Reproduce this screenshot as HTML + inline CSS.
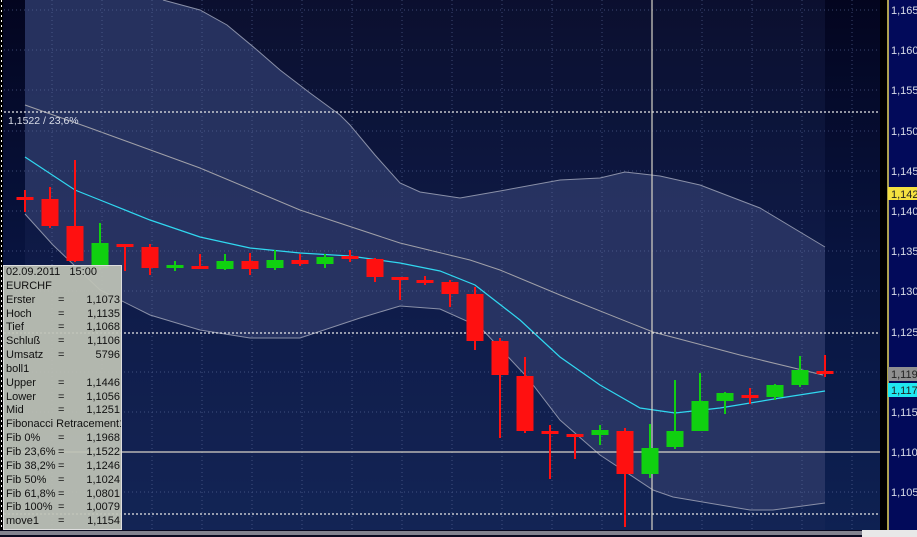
<!DOCTYPE html>
<html><head><meta charset="utf-8"><style>
html,body{margin:0;width:917px;height:537px;overflow:hidden;background:#000;position:relative}
svg{display:block}
.ax{font-family:"Liberation Sans",sans-serif;font-size:11px;fill:#d8dce8}
#box{position:absolute;left:3px;top:265px;width:119px;height:265px;overflow:hidden;background:rgba(190,195,182,0.93);border:1px solid #ddd;font-family:"Liberation Sans",sans-serif;font-size:11px;color:#111;line-height:13.85px;box-sizing:border-box;padding:0 1px 0 2px}
#box div{display:flex;white-space:nowrap;height:13.85px}
#box .l{width:52px}#box .e{width:20px}#box .v{flex:1;text-align:right}
</style></head><body>
<svg width="917" height="537" viewBox="0 0 917 537">
<defs><linearGradient id="bg" x1="0" y1="0" x2="0" y2="1"><stop offset="0" stop-color="#03051f"/><stop offset="0.5" stop-color="#081440"/><stop offset="1" stop-color="#0e2152"/></linearGradient></defs>
<rect x="0" y="0" width="887" height="530" fill="url(#bg)"/>
<rect x="25" y="0" width="800" height="530" fill="#22305e" opacity="0.25"/>
<polygon fill="#2b3766" opacity="0.85" points="163,0 200,10 227,25 257,50 280,70 310,93 340,115 350,125 375,155 400,183 420,192 460,198 500,191 560,180 600,178 625,172 660,176 700,185 760,208 825,247 825,503 773,510 750,510 673,497 653,490 600,455 560,420 527,377 480,327 440,309 400,306 360,318 300,338 250,338 200,330 150,315 100,290 53,245 25,214 25,0"/>
<polyline fill="none" stroke="#8a90a8" stroke-width="1" points="163,0 200,10 227,25 257,50 280,70 310,93 340,115 350,125 375,155 400,183 420,192 460,198 500,191 560,180 600,178 625,172 660,176 700,185 760,208 825,247"/>
<polyline fill="none" stroke="#8a90a8" stroke-width="1" points="25,214 53,245 100,290 150,315 200,330 250,338 300,338 360,318 400,306 440,309 480,327 527,377 560,420 600,455 653,490 673,497 750,510 773,510 825,503"/>
<polyline fill="none" stroke="#a0a0a8" stroke-width="1" points="25,105 90,128 200,168 300,210 400,243 470,260 500,270 560,295 653,332 740,355 823,375"/>
<g stroke="#6070a0" stroke-width="1" stroke-dasharray="1,3" opacity="0.6">
<line x1="52" y1="0" x2="52" y2="530"/><line x1="102" y1="0" x2="102" y2="530"/><line x1="152" y1="0" x2="152" y2="530"/><line x1="202" y1="0" x2="202" y2="530"/><line x1="252" y1="0" x2="252" y2="530"/><line x1="302" y1="0" x2="302" y2="530"/><line x1="352" y1="0" x2="352" y2="530"/><line x1="402" y1="0" x2="402" y2="530"/><line x1="452" y1="0" x2="452" y2="530"/><line x1="502" y1="0" x2="502" y2="530"/><line x1="552" y1="0" x2="552" y2="530"/><line x1="602" y1="0" x2="602" y2="530"/><line x1="702" y1="0" x2="702" y2="530"/><line x1="752" y1="0" x2="752" y2="530"/><line x1="802" y1="0" x2="802" y2="530"/><line x1="852" y1="0" x2="852" y2="530"/>
<line x1="0" y1="10" x2="880" y2="10"/><line x1="0" y1="50" x2="880" y2="50"/><line x1="0" y1="90" x2="880" y2="90"/><line x1="0" y1="131" x2="880" y2="131"/><line x1="0" y1="171" x2="880" y2="171"/><line x1="0" y1="211" x2="880" y2="211"/><line x1="0" y1="251" x2="880" y2="251"/><line x1="0" y1="291" x2="880" y2="291"/><line x1="0" y1="372" x2="880" y2="372"/><line x1="0" y1="412" x2="880" y2="412"/><line x1="0" y1="492" x2="880" y2="492"/>
</g>
<polyline fill="none" stroke="#30d8f0" stroke-width="1.2" points="25,157 75,190 100,200 150,220 200,237 250,248 300,253 350,256 400,263 440,271 475,285 520,320 560,357 600,385 640,408 675,413 720,408 780,398 825,391"/>
<g stroke="#e8e8e8" stroke-width="1.3" stroke-dasharray="2,2">
<line x1="0" y1="112" x2="880" y2="112"/><line x1="0" y1="333" x2="880" y2="333"/><line x1="0" y1="514" x2="880" y2="514"/>
</g>
<line x1="0" y1="452" x2="880" y2="452" stroke="#d8d4c8" stroke-width="1.2"/>
<line x1="652" y1="0" x2="652" y2="530" stroke="#d8d4c8" stroke-width="1.2"/>
<text x="8" y="124" class="ax" fill="#e0e4f0" style="font-size:10.5px">1,1522 / 23,6%</text>
<g id="c"></g>
<rect x="0" y="0" width="3" height="530" fill="#000"/>
<line x1="1.5" y1="0" x2="1.5" y2="530" stroke="#fff" stroke-dasharray="2,3"/>
<rect x="880" y="0" width="7" height="530" fill="#000"/>
<rect x="888" y="0" width="29" height="530" fill="#020a5a"/>
<line x1="888" y1="0" x2="888" y2="530" stroke="#e8d860" stroke-width="1.5"/>
<rect x="0" y="530" width="917" height="7" fill="#0a0a20"/>
<line x1="0" y1="532" x2="862" y2="532" stroke="#fff"/><line x1="0" y1="534" x2="862" y2="534" stroke="#fff"/>
<rect x="862" y="530" width="55" height="7" fill="#e8e8e8"/>
<g class="ax">
<text x="891" y="14">1,165</text><text x="891" y="54">1,160</text><text x="891" y="94">1,155</text><text x="891" y="135">1,150</text><text x="891" y="175">1,145</text><text x="891" y="215">1,140</text><text x="891" y="255">1,135</text><text x="891" y="295">1,130</text><text x="891" y="336">1,125</text><text x="891" y="416">1,115</text><text x="891" y="456">1,110</text><text x="891" y="496">1,105</text>
</g>
<rect x="888" y="187" width="29" height="13" fill="#f4e040"/><text x="891" y="198" class="ax" style="fill:#222">1,142</text>
<rect x="888" y="367" width="29" height="14" fill="#909090"/><text x="891" y="378" class="ax" style="fill:#222">1,119</text>
<rect x="888" y="383" width="29" height="14" fill="#20e8f0"/><text x="891" y="394" class="ax" style="fill:#222">1,117</text>
</svg>
<div id="box">
<div>02.09.2011&nbsp;&nbsp;&nbsp;15:00</div><div>EURCHF</div>
<div><span class="l">Erster</span><span class="e">=</span><span class="v">1,1073</span></div>
<div><span class="l">Hoch</span><span class="e">=</span><span class="v">1,1135</span></div>
<div><span class="l">Tief</span><span class="e">=</span><span class="v">1,1068</span></div>
<div><span class="l">Schluß</span><span class="e">=</span><span class="v">1,1106</span></div>
<div><span class="l">Umsatz</span><span class="e">=</span><span class="v">5796</span></div>
<div>boll1</div>
<div><span class="l">Upper</span><span class="e">=</span><span class="v">1,1446</span></div>
<div><span class="l">Lower</span><span class="e">=</span><span class="v">1,1056</span></div>
<div><span class="l">Mid</span><span class="e">=</span><span class="v">1,1251</span></div>
<div>Fibonacci Retracement1</div>
<div><span class="l">Fib 0%</span><span class="e">=</span><span class="v">1,1968</span></div>
<div><span class="l">Fib 23,6%</span><span class="e">=</span><span class="v">1,1522</span></div>
<div><span class="l">Fib 38,2%</span><span class="e">=</span><span class="v">1,1246</span></div>
<div><span class="l">Fib 50%</span><span class="e">=</span><span class="v">1,1024</span></div>
<div><span class="l">Fib 61,8%</span><span class="e">=</span><span class="v">1,0801</span></div>
<div><span class="l">Fib 100%</span><span class="e">=</span><span class="v">1,0079</span></div>
<div><span class="l">move1</span><span class="e">=</span><span class="v">1,1154</span></div>
</div>
<script>
var d=[[25,'r',197,199,190,212],[50,'r',199,226,187,228],[75,'r',226,261,160,262],[100,'g',243,268,223,270],[125,'r',244,246,244,271],[150,'r',247,268,244,275],[175,'g',265,268,261,271],[200,'r',266,269,254,269],[225,'g',261,269,254,270],[250,'r',261,269,253,275],[275,'g',260,268,250,270],[300,'r',260,264,254,266],[325,'g',257,264,254,268],[350,'r',256,258,250,262],[375,'r',259,277,258,282],[400,'r',277,280,277,300],[425,'r',280,282,276,285],[450,'r',282,294,280,307],[475,'r',294,341,287,350],[500,'r',341,375,338,438],[525,'r',376,431,357,433],[550,'r',431,433,425,479],[575,'r',434,436,434,459],[600,'g',430,435,425,445],[625,'r',431,474,428,527],[650,'g',448,474,424,478],[675,'g',431,447,380,449],[700,'g',401,431,373,431],[725,'g',393,401,392,414],[750,'r',395,398,388,404],[775,'g',385,397,384,400],[800,'g',370,385,356,387],[825,'r',371,374,355,377]];
var s='';d.forEach(function(c){var col=c[1]=='r'?'#ff1010':'#10d010';s+='<line x1="'+c[0]+'" y1="'+c[4]+'" x2="'+c[0]+'" y2="'+c[5]+'" stroke="'+col+'" stroke-width="2"/><rect x="'+(c[0]-8.5)+'" y="'+c[2]+'" width="17" height="'+Math.max(3,c[3]-c[2])+'" fill="'+col+'"/>';});
document.getElementById('c').innerHTML=s;
</script>
</body></html>
